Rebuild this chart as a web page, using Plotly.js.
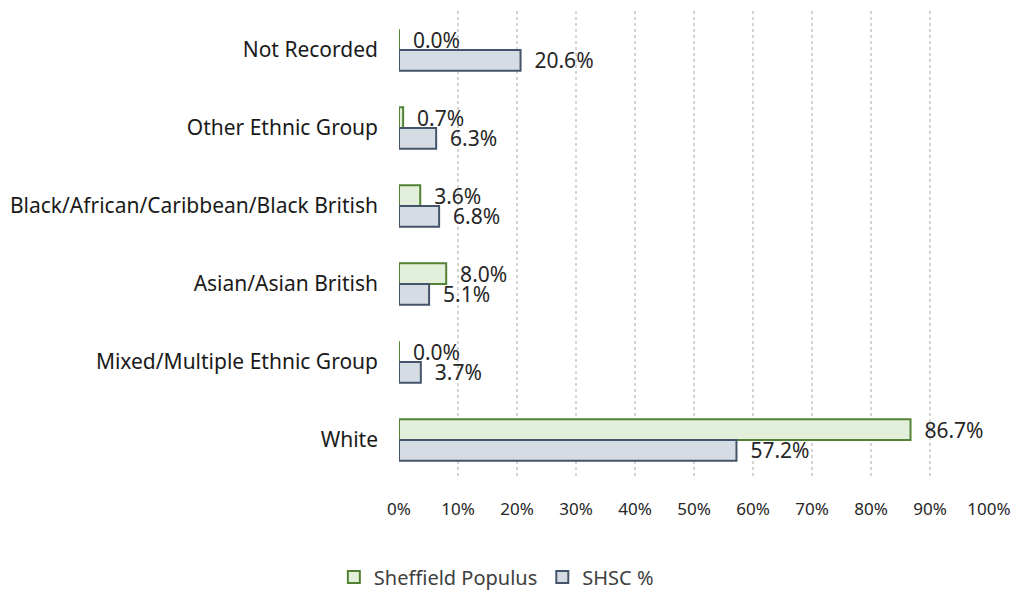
<!DOCTYPE html>
<html>
<head>
<meta charset="utf-8">
<script src="https://cdn.plot.ly/plotly-3.0.1.min.js"></script>
<style>html,body{margin:0;padding:0;background:#fff;}#chart{width:1013px;height:590px;}</style>
</head>
<body>
<div id="chart"></div>
<script>
const categories = ["Not Recorded", "Other Ethnic Group", "Black/African/Caribbean/Black British", "Asian/Asian British", "Mixed/Multiple Ethnic Group", "White"];
const sheffieldPopulus = [0.0, 0.7, 3.6, 8.0, 0.0, 86.7];
const shscPct = [20.6, 6.3, 6.8, 5.1, 3.7, 57.2];
const seriesNames = ["Sheffield Populus", "SHSC %"];
const tickVals = [0, 10, 20, 30, 40, 50, 60, 70, 80, 90, 100];
const tickLabels = ["0%", "10%", "20%", "30%", "40%", "50%", "60%", "70%", "80%", "90%", "100%"];

const FONT = "Noto Sans, Open Sans, sans-serif";
const LABEL = "\u00a0\u00a0%{x:.1f}%";

const traces = [
  {
    type: "bar", orientation: "h", name: seriesNames[0],
    y: categories, x: sheffieldPopulus,
    marker: {color: "#e2efda", line: {color: "#548235", width: 2}},
    texttemplate: LABEL, textposition: "outside", constraintext: "none",
    textfont: {family: FONT, size: 21, color: "#262626"},
    cliponaxis: false, hoverinfo: "none"
  },
  {
    type: "bar", orientation: "h", name: seriesNames[1],
    y: categories, x: shscPct,
    marker: {color: "#d6dce4", line: {color: "#44546a", width: 2}},
    texttemplate: LABEL, textposition: "outside", constraintext: "none",
    textfont: {family: FONT, size: 21, color: "#262626"},
    cliponaxis: false, hoverinfo: "none"
  }
];

const layout = {
  width: 1013, height: 590, autosize: false,
  paper_bgcolor: "#ffffff", plot_bgcolor: "#ffffff",
  margin: {l: 399, r: 24, t: 11, b: 111},
  barmode: "group", bargap: 0.47, bargroupgap: 0,
  font: {family: FONT, color: "#404040"},
  xaxis: {
    range: [0, 100], tickmode: "array", tickvals: tickVals, ticktext: tickLabels,
    showgrid: true, gridcolor: "#d4d4d4", gridwidth: 1.5, griddash: "dot",
    zeroline: false, showline: false, ticks: "", automargin: false,
    ticklabelstandoff: 18,
    tickfont: {family: FONT, size: 17, color: "#262626"}
  },
  yaxis: {
    autorange: "reversed", type: "category", automargin: false,
    showgrid: false, zeroline: false, showline: false, ticks: "",
    ticklabelstandoff: 20,
    tickfont: {family: FONT, size: 21, color: "#1a1a1a"}
  },
  legend: {
    orientation: "h", x: 0.165, xanchor: "center",
    yref: "container", y: 0.022, yanchor: "middle",
    font: {family: FONT, size: 20, color: "#404040"}
  },
  showlegend: true
};

Plotly.newPlot("chart", traces, layout, {staticPlot: true});
</script>
</body>
</html>
